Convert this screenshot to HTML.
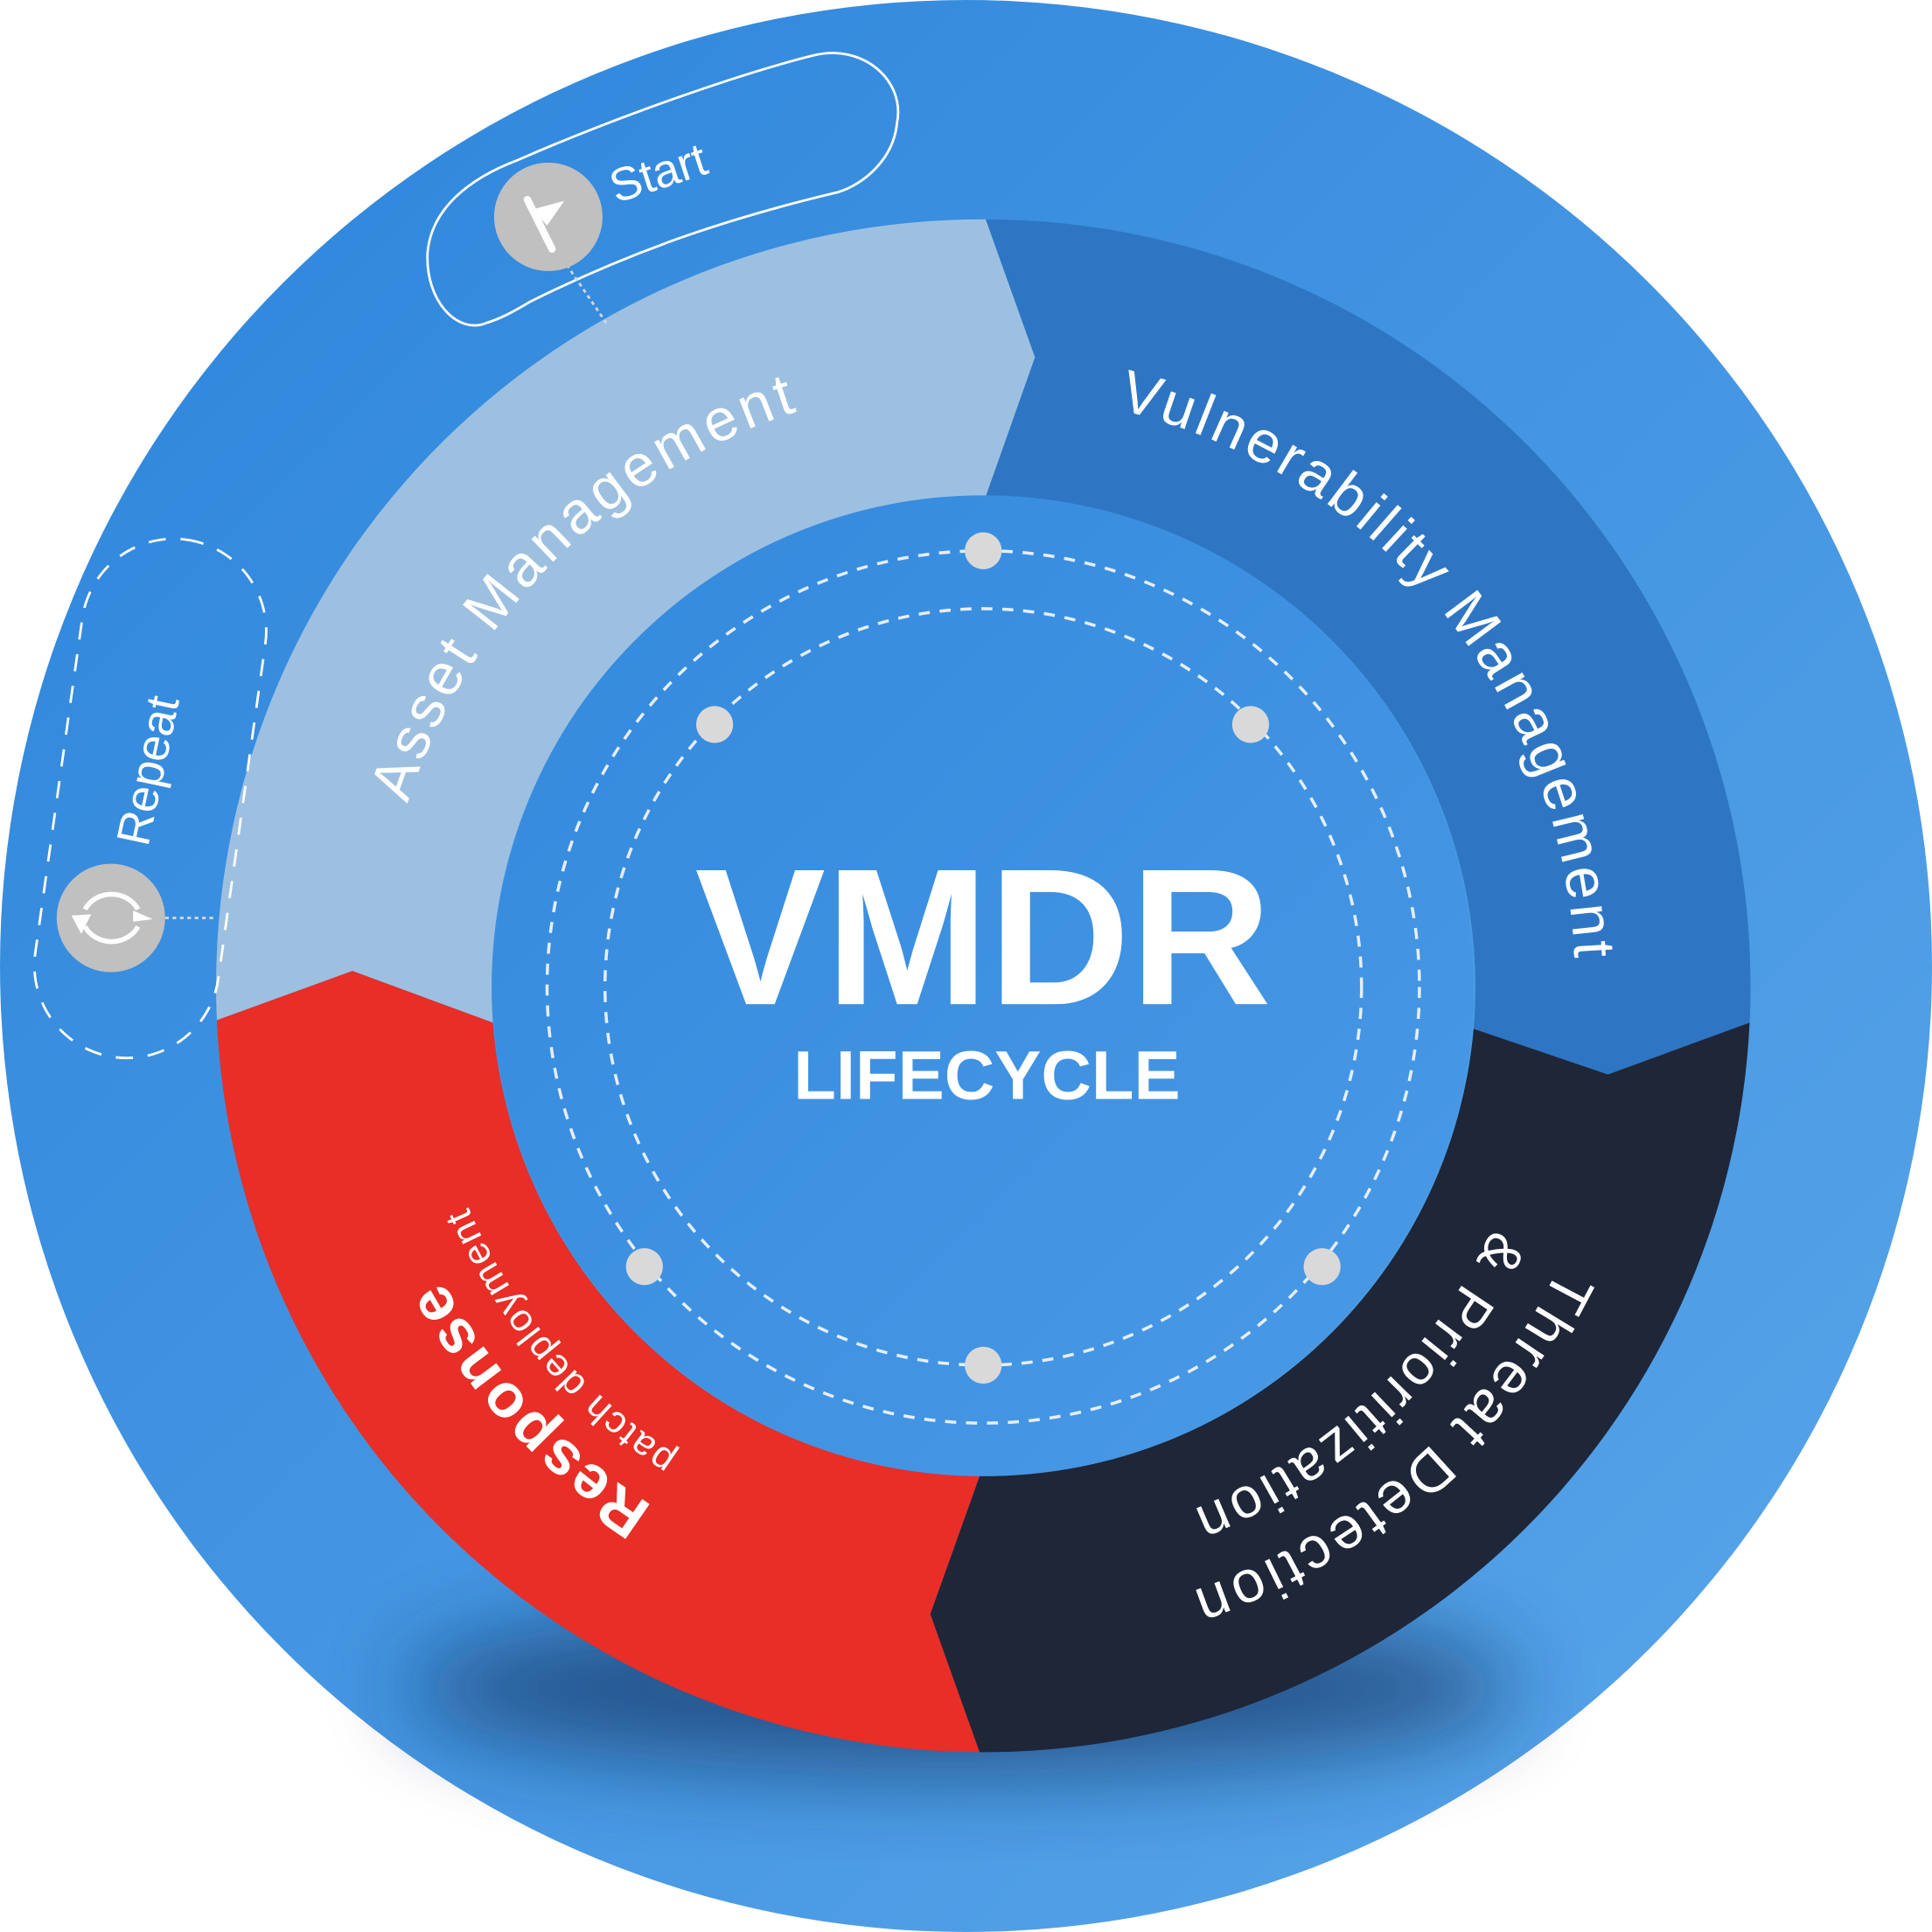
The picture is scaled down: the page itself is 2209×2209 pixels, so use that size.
<!DOCTYPE html>
<html><head><meta charset="utf-8"><style>
html,body{margin:0;padding:0;background:#fff;}
svg{display:block;}
text{font-family:"Liberation Sans",sans-serif;fill:#fff;}
</style></head><body>
<svg width="2209" height="2209" viewBox="0 0 1568 1568" xmlns="http://www.w3.org/2000/svg">
<defs>
<linearGradient id="og" x1="0" y1="0" x2="1" y2="1">
<stop offset="0" stop-color="#2c84db"/><stop offset="1" stop-color="#5aa6e9"/>
</linearGradient>
<linearGradient id="cg" x1="0" y1="0" x2="1" y2="1">
<stop offset="0" stop-color="#3389dd"/><stop offset="1" stop-color="#4a9ae6"/>
</linearGradient>
<filter id="blur" x="-50%" y="-50%" width="200%" height="200%"><feGaussianBlur stdDeviation="35"/></filter>
<path id="pA" d="M373.6,1045 A490,490 0 0 1 1043,375.7"/>
<path id="pV" d="M626.2,351.7 A480,480 0 0 1 1218,1032.8"/>
<path id="pT1" d="M1282.6,611.2 A520,520 0 0 1 548.4,1256"/>
<path id="pT2" d="M1219.6,621.1 A458,458 0 0 1 590.1,1208.1"/>
<path id="pR" d="M993.4,1260.3 A500,500 0 0 1 352.5,573"/>
<path id="pP" d="M953.6,1227.6 A455,455 0 0 1 404,572.5"/>
</defs>
<circle cx="784" cy="784" r="784" fill="url(#og)"/>
<ellipse cx="780" cy="1370" rx="450" ry="70" fill="#0f2a55" opacity="0.6" filter="url(#blur)"/>
<path d="M176,828 A622,622 0 0 1 800,178 L840,290 L800,403 A398,398 0 0 0 400,830 L286,788 Z" fill="#9dc0e1"/>
<path d="M800,178 A622,622 0 0 1 1420,830 L1305,872 L1196,835 A398,398 0 0 0 800,403 L840,290 Z" fill="#2e76c4"/>
<path d="M1420,830 A622,622 0 0 1 795,1422 L755,1310 L795,1198 A398,398 0 0 0 1196,835 L1305,872 Z" fill="#1e2638"/>
<path d="M795,1422 A622,622 0 0 1 176,828 L286,788 L400,830 A398,398 0 0 0 795,1198 L755,1310 Z" fill="#e82e26"/>
<circle cx="798" cy="800" r="398" fill="url(#cg)"/>
<circle cx="798" cy="801" r="354" fill="none" stroke="#e6eef8" stroke-width="2.5" stroke-dasharray="9 8"/>
<circle cx="798" cy="801" r="307" fill="none" stroke="#e6eef8" stroke-width="2.5" stroke-dasharray="9 8"/>
<g fill="#d9d9d9">
<circle cx="798" cy="447" r="15"/><circle cx="580" cy="588" r="15"/><circle cx="1015" cy="588" r="15"/>
<circle cx="523" cy="1028" r="15"/><circle cx="1073" cy="1028" r="15"/><circle cx="798" cy="1108" r="15"/>
</g>
<text x="798" y="815" text-anchor="middle" font-size="158" font-weight="bold" textLength="468" lengthAdjust="spacingAndGlyphs">VMDR</text>
<text x="801" y="892" text-anchor="middle" font-size="56" font-weight="bold" textLength="314" lengthAdjust="spacingAndGlyphs">LIFECYCLE</text>
<text font-size="48" letter-spacing="3.5"><textPath href="#pA" startOffset="50%" text-anchor="middle">Asset Management</textPath></text>
<text font-size="48" letter-spacing="3"><textPath href="#pV" startOffset="51%" text-anchor="middle">Vulnerability Management</textPath></text>
<text font-size="48" letter-spacing="3.5"><textPath href="#pT1" startOffset="50%" text-anchor="middle">Threat Detection</textPath></text>
<text font-size="46" letter-spacing="3"><textPath href="#pT2" startOffset="50%" text-anchor="middle">&amp; Prioritization</textPath></text>
<text font-size="50" font-weight="bold" letter-spacing="2"><textPath href="#pR" startOffset="50%" text-anchor="middle">Response</textPath></text>
<text font-size="31" letter-spacing="1.5"><textPath href="#pP" startOffset="50%" text-anchor="middle">patch deployment</textPath></text>
<path d="M395,262 C372,272 345,245 347,205 C350,170 380,145 420,130 C500,95 600,60 660,45 C700,35 735,65 728,100 C725,130 700,150 680,156 C600,175 520,200 430,245 C415,254 405,259 395,262 Z" fill="none" stroke="#fff" stroke-width="2"/>
<line x1="460" y1="215" x2="492" y2="262" stroke="#cfd8e4" stroke-width="2" stroke-dasharray="3 3"/>
<circle cx="445" cy="176" r="44" fill="#c0c0c0"/>
<path d="M428,162 L448,202" stroke="#fff" stroke-width="6" stroke-linecap="round"/>
<path d="M432,170 L458,163 L444,183 Z" fill="#fff"/>
<text x="0" y="0" font-size="38" transform="translate(500,165) rotate(-18)">Start</text>
<g transform="translate(122,648) rotate(8)">
<rect x="-75" y="-212" width="150" height="424" rx="75" fill="none" stroke="#fff" stroke-width="2" stroke-dasharray="14 12"/>
</g>
<line x1="134" y1="745" x2="176" y2="745" stroke="#cfd8e4" stroke-width="2" stroke-dasharray="3 3"/>
<circle cx="90" cy="745" r="44" fill="#c0c0c0"/>
<path d="M69,738 A24,22 0 0 1 112,738" fill="none" stroke="#fff" stroke-width="4"/>
<path d="M112,752 A24,22 0 0 1 69,752" fill="none" stroke="#fff" stroke-width="4"/>
<path d="M58,743 L74,742 L66,758 Z" fill="#fff"/>
<path d="M108,739 L124,746 L108,748 Z" fill="#fff"/>
<text x="0" y="0" font-size="38" transform="translate(120,688) rotate(-78)">Repeat</text>
</svg>
</body></html>
